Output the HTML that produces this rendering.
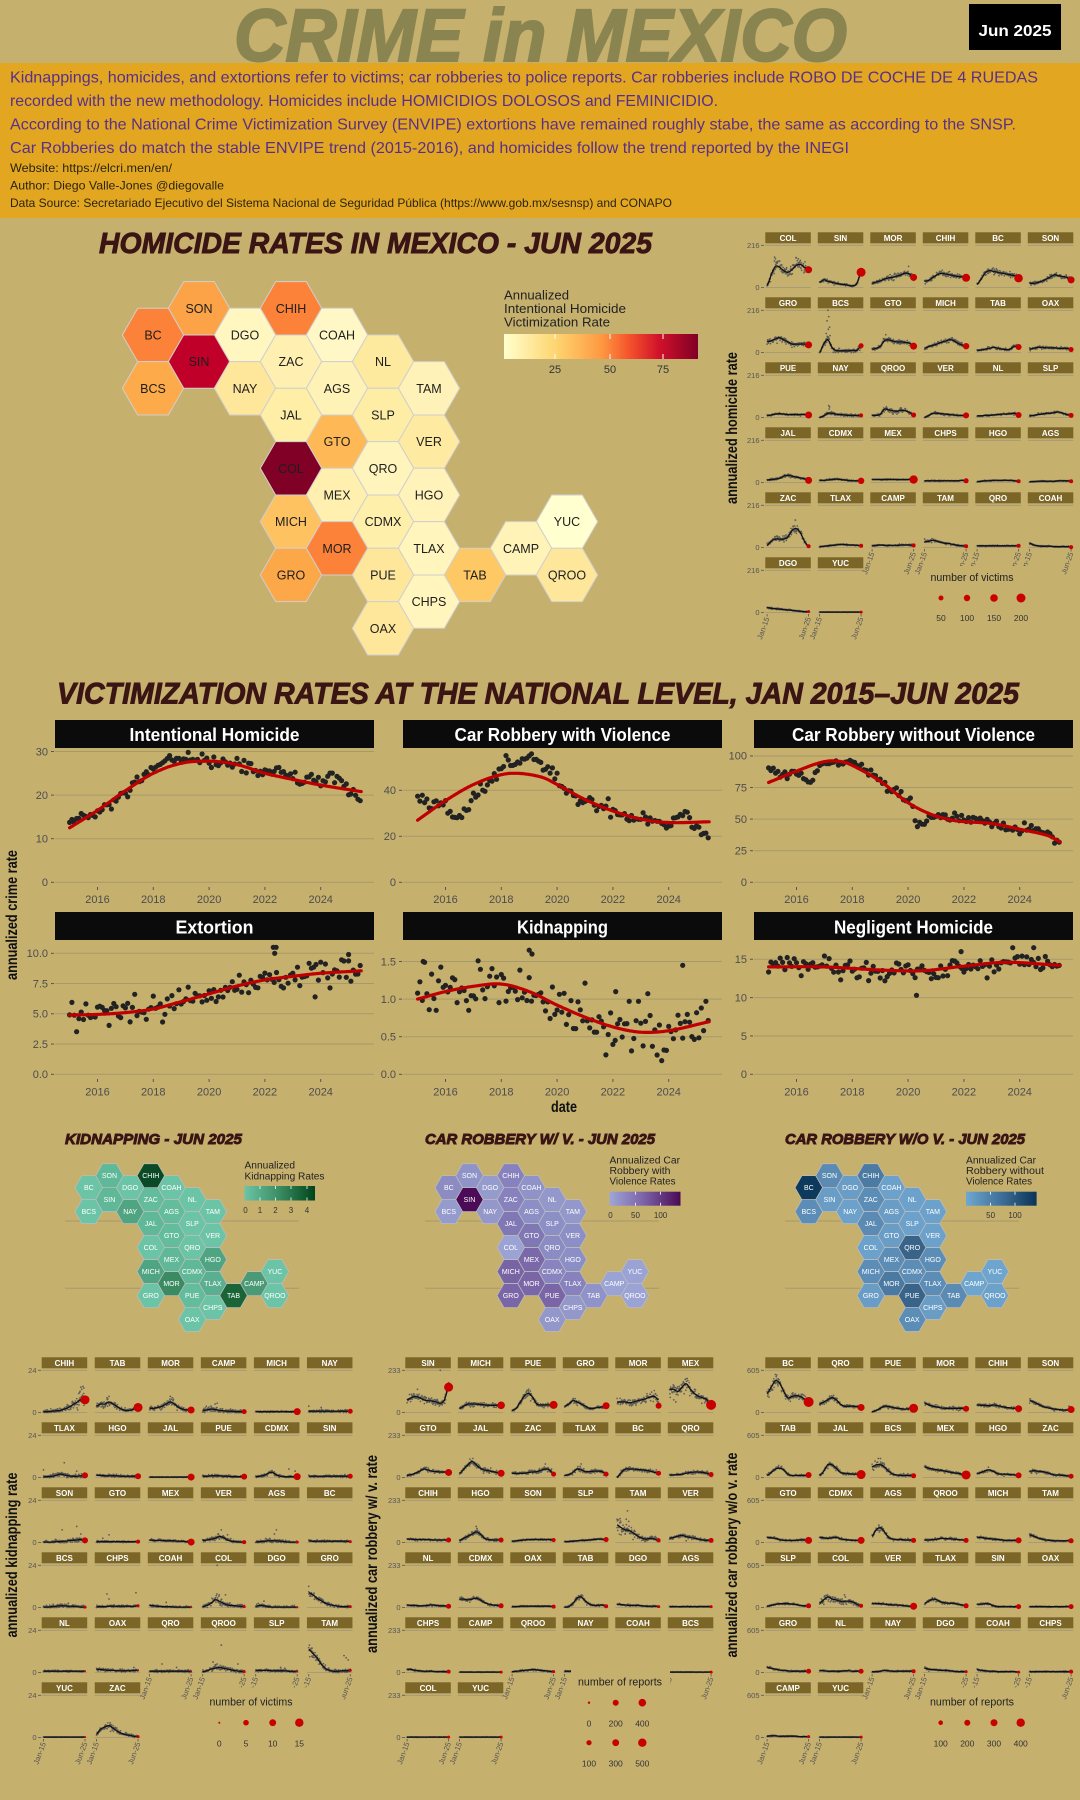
<!DOCTYPE html>
<html><head><meta charset="utf-8"><title>Crime in Mexico</title>
<style>
html,body{margin:0;padding:0;background:#c5b06e;width:1080px;height:1800px;overflow:hidden}
svg{display:block}
text{font-family:"Liberation Sans",sans-serif}
.ob{fill:#58308a;font-size:16px}
.sm{fill:#2a2412;font-size:12px}
.sec{fill:#3b1414;font-weight:bold;font-style:italic;stroke:#3b1414;stroke-width:0.9px}
.hl{font-size:12.5px;fill:#1e1e1e;text-anchor:middle}
.hs{font-size:15.6px;fill:#fff;text-anchor:middle}
.lg{fill:#222;font-size:13px}
.lgs{fill:#222;font-size:10px}
.ll{fill:#333;font-size:11px;text-anchor:middle}
.lls{fill:#333;font-size:8px;text-anchor:middle}
.nt{fill:#fff;font-size:18px;font-weight:bold;text-anchor:middle}
.ny{fill:#4d4d4d;font-size:11px;text-anchor:end}
.nx{fill:#4d4d4d;font-size:11px;text-anchor:middle}
.ax{fill:#111;font-weight:bold;text-anchor:middle;font-size:16px}
.sl{fill:#fff;font-size:8px;font-weight:bold;text-anchor:middle}
.yt{fill:#555;font-size:7.5px;text-anchor:end}
.xt{fill:#555;font-size:7.5px;text-anchor:end}
.lgn{fill:#222;font-size:11px;text-anchor:middle}
.vl{fill:#333;font-size:8.5px;text-anchor:middle}
</style></head><body>
<svg id="S" width="1080" height="1800" viewBox="0 0 1080 1800" xmlns="http://www.w3.org/2000/svg">
<defs>
<linearGradient id="gH" x1="0" x2="1" y1="0" y2="0"><stop offset="0" stop-color="#ffffcc"/><stop offset="0.27" stop-color="#fed470"/><stop offset="0.5" stop-color="#fd9a42"/><stop offset="0.65" stop-color="#f4512b"/><stop offset="0.8" stop-color="#d0112b"/><stop offset="1" stop-color="#800026"/></linearGradient>
<linearGradient id="gK" x1="0" x2="1" y1="0" y2="0"><stop offset="0" stop-color="#6cc4a6"/><stop offset="0.5" stop-color="#3a8c62"/><stop offset="1" stop-color="#00441b"/></linearGradient>
<linearGradient id="gP" x1="0" x2="1" y1="0" y2="0"><stop offset="0" stop-color="#9ea6d6"/><stop offset="0.5" stop-color="#7a60a6"/><stop offset="1" stop-color="#4a0a55"/></linearGradient>
<linearGradient id="gB" x1="0" x2="1" y1="0" y2="0"><stop offset="0" stop-color="#6ea8d0"/><stop offset="0.5" stop-color="#3f6f98"/><stop offset="1" stop-color="#0a3356"/></linearGradient>
</defs>
<rect width="1080" height="1800" fill="#c5b06e"/>

<!-- HEADER -->
<rect x="0" y="63" width="1080" height="155" fill="#e3a621"/>
<text x="540.5" y="61" font-size="74" font-weight="bold" font-style="italic" fill="#8a8550" stroke="#8a8550" stroke-width="2" text-anchor="middle" textLength="613" lengthAdjust="spacingAndGlyphs">CRIME in MEXICO</text>
<rect x="969" y="4" width="92" height="46" fill="#000"/>
<text x="1015" y="36" font-size="15.5" font-weight="bold" fill="#fff" text-anchor="middle" textLength="73" lengthAdjust="spacingAndGlyphs">Jun 2025</text>
<text class="ob" x="10" y="82.5" textLength="1028" lengthAdjust="spacingAndGlyphs">Kidnappings, homicides, and extortions refer to victims; car robberies to police reports. Car robberies include ROBO DE COCHE DE 4 RUEDAS</text>
<text class="ob" x="10" y="106" textLength="708" lengthAdjust="spacingAndGlyphs">recorded with the new methodology. Homicides include HOMICIDIOS DOLOSOS and FEMINICIDIO.</text>
<text class="ob" x="10" y="129.5" textLength="1006" lengthAdjust="spacingAndGlyphs">According to the National Crime Victimization Survey (ENVIPE) extortions have remained roughly stabe, the same as according to the SNSP.</text>
<text class="ob" x="10" y="153" textLength="839" lengthAdjust="spacingAndGlyphs">Car Robberies do match the stable ENVIPE trend (2015-2016), and homicides follow the trend reported by the INEGI</text>
<text class="sm" x="10" y="172" textLength="162" lengthAdjust="spacingAndGlyphs">Website: https://elcri.men/en/</text>
<text class="sm" x="10" y="189.5" textLength="214" lengthAdjust="spacingAndGlyphs">Author: Diego Valle-Jones @diegovalle</text>
<text class="sm" x="10" y="207" textLength="662" lengthAdjust="spacingAndGlyphs">Data Source: Secretariado Ejecutivo del Sistema Nacional de Seguridad Pública (https://www.gob.mx/sesnsp) and CONAPO</text>

<!-- HOMICIDE MAP -->
<text class="sec" x="99" y="253" font-size="29" textLength="553" lengthAdjust="spacingAndGlyphs">HOMICIDE RATES IN MEXICO - JUN 2025</text>
<g id="hexM" transform="translate(153,308.3)"></g>
<g transform="translate(153,312.8)">
<text class="hl" x="46" y="0">SON</text><text class="hl" x="138" y="0">CHIH</text>
<text class="hl" x="0" y="26.67">BC</text><text class="hl" x="92" y="26.67">DGO</text><text class="hl" x="184" y="26.67">COAH</text>
<text class="hl" x="46" y="53.33">SIN</text><text class="hl" x="138" y="53.33">ZAC</text><text class="hl" x="230" y="53.33">NL</text>
<text class="hl" x="0" y="80">BCS</text><text class="hl" x="92" y="80">NAY</text><text class="hl" x="184" y="80">AGS</text><text class="hl" x="276" y="80">TAM</text>
<text class="hl" x="138" y="106.67">JAL</text><text class="hl" x="230" y="106.67">SLP</text>
<text class="hl" x="184" y="133.33">GTO</text><text class="hl" x="276" y="133.33">VER</text>
<text class="hl" x="138" y="160">COL</text><text class="hl" x="230" y="160">QRO</text>
<text class="hl" x="184" y="186.67">MEX</text><text class="hl" x="276" y="186.67">HGO</text>
<text class="hl" x="138" y="213.33">MICH</text><text class="hl" x="230" y="213.33">CDMX</text><text class="hl" x="414" y="213.33">YUC</text>
<text class="hl" x="184" y="240">MOR</text><text class="hl" x="276" y="240">TLAX</text><text class="hl" x="368" y="240">CAMP</text>
<text class="hl" x="138" y="266.67">GRO</text><text class="hl" x="230" y="266.67">PUE</text><text class="hl" x="322" y="266.67">TAB</text><text class="hl" x="414" y="266.67">QROO</text>
<text class="hl" x="276" y="293.33">CHPS</text>
<text class="hl" x="230" y="320">OAX</text>
</g>
<text class="lg" x="504" y="299.5" textLength="65" lengthAdjust="spacingAndGlyphs">Annualized</text>
<text class="lg" x="504" y="313" textLength="122" lengthAdjust="spacingAndGlyphs">Intentional Homicide</text>
<text class="lg" x="504" y="326.5" textLength="106" lengthAdjust="spacingAndGlyphs">Victimization Rate</text>
<rect x="504" y="334" width="194" height="25" fill="url(#gH)"/>
<g stroke="#fff" stroke-width="1"><line x1="555" y1="334" x2="555" y2="339"/><line x1="555" y1="354" x2="555" y2="359"/><line x1="610" y1="334" x2="610" y2="339"/><line x1="610" y1="354" x2="610" y2="359"/><line x1="663" y1="334" x2="663" y2="339"/><line x1="663" y1="354" x2="663" y2="359"/></g>
<text class="ll" x="555" y="373">25</text><text class="ll" x="610" y="373">50</text><text class="ll" x="663" y="373">75</text>

<!-- NATIONAL -->
<text class="sec" x="57" y="703.5" font-size="30" textLength="962" lengthAdjust="spacingAndGlyphs">VICTIMIZATION RATES AT THE NATIONAL LEVEL, JAN 2015–JUN 2025</text>
<g id="natg"></g>
<rect x="55" y="720" width="319" height="28" fill="#0b0b0b"/>
<rect x="403" y="720" width="319" height="28" fill="#0b0b0b"/>
<rect x="754" y="720" width="319" height="28" fill="#0b0b0b"/>
<rect x="55" y="912" width="319" height="28" fill="#0b0b0b"/>
<rect x="403" y="912" width="319" height="28" fill="#0b0b0b"/>
<rect x="754" y="912" width="319" height="28" fill="#0b0b0b"/>
<text class="nt" x="214.5" y="741" textLength="170" lengthAdjust="spacingAndGlyphs">Intentional Homicide</text>
<text class="nt" x="562.5" y="741" textLength="216" lengthAdjust="spacingAndGlyphs">Car Robbery with Violence</text>
<text class="nt" x="913.5" y="741" textLength="243" lengthAdjust="spacingAndGlyphs">Car Robbery without Violence</text>
<text class="nt" x="214.5" y="933.5" textLength="78" lengthAdjust="spacingAndGlyphs">Extortion</text>
<text class="nt" x="562.5" y="933.5" textLength="91" lengthAdjust="spacingAndGlyphs">Kidnapping</text>
<text class="nt" x="913.5" y="933.5" textLength="159" lengthAdjust="spacingAndGlyphs">Negligent Homicide</text>
<g id="natd"></g>
<text class="ny" x="48" y="886.1">0</text><text class="ny" x="48" y="842.5">10</text><text class="ny" x="48" y="798.9">20</text><text class="ny" x="48" y="755.3">30</text>
<text class="ny" x="396" y="886.1">0</text><text class="ny" x="396" y="840.1">20</text><text class="ny" x="396" y="794.1">40</text>
<text class="ny" x="747" y="886.1">0</text><text class="ny" x="747" y="854.5">25</text><text class="ny" x="747" y="822.9">50</text><text class="ny" x="747" y="791.3">75</text><text class="ny" x="747" y="759.7">100</text>
<text class="ny" x="48" y="1078.1">0.0</text><text class="ny" x="48" y="1047.85">2.5</text><text class="ny" x="48" y="1017.6">5.0</text><text class="ny" x="48" y="987.35">7.5</text><text class="ny" x="48" y="957.1">10.0</text>
<text class="ny" x="396" y="1078.1">0.0</text><text class="ny" x="396" y="1040.5">0.5</text><text class="ny" x="396" y="1002.9">1.0</text><text class="ny" x="396" y="965.3">1.5</text>
<text class="ny" x="747" y="1078.1">0</text><text class="ny" x="747" y="1039.8">5</text><text class="ny" x="747" y="1001.4">10</text><text class="ny" x="747" y="963.1">15</text>
<g>
<text class="nx" x="97.5" y="903">2016</text><text class="nx" x="153.3" y="903">2018</text><text class="nx" x="209.1" y="903">2020</text><text class="nx" x="264.9" y="903">2022</text><text class="nx" x="320.7" y="903">2024</text>
<text class="nx" x="445.5" y="903">2016</text><text class="nx" x="501.3" y="903">2018</text><text class="nx" x="557.1" y="903">2020</text><text class="nx" x="612.9" y="903">2022</text><text class="nx" x="668.7" y="903">2024</text>
<text class="nx" x="796.5" y="903">2016</text><text class="nx" x="852.3" y="903">2018</text><text class="nx" x="908.1" y="903">2020</text><text class="nx" x="963.9" y="903">2022</text><text class="nx" x="1019.7" y="903">2024</text>
<text class="nx" x="97.5" y="1095.5">2016</text><text class="nx" x="153.3" y="1095.5">2018</text><text class="nx" x="209.1" y="1095.5">2020</text><text class="nx" x="264.9" y="1095.5">2022</text><text class="nx" x="320.7" y="1095.5">2024</text>
<text class="nx" x="445.5" y="1095.5">2016</text><text class="nx" x="501.3" y="1095.5">2018</text><text class="nx" x="557.1" y="1095.5">2020</text><text class="nx" x="612.9" y="1095.5">2022</text><text class="nx" x="668.7" y="1095.5">2024</text>
<text class="nx" x="796.5" y="1095.5">2016</text><text class="nx" x="852.3" y="1095.5">2018</text><text class="nx" x="908.1" y="1095.5">2020</text><text class="nx" x="963.9" y="1095.5">2022</text><text class="nx" x="1019.7" y="1095.5">2024</text>
</g>
<text class="ax" transform="translate(17,915) rotate(-90)" textLength="130" lengthAdjust="spacingAndGlyphs">annualized crime rate</text>
<text class="ax" x="564" y="1112" textLength="26" lengthAdjust="spacingAndGlyphs">date</text>

<!-- SMALL HEX MAPS -->
<text class="sec" x="65" y="1144" font-size="15" textLength="177" lengthAdjust="spacingAndGlyphs">KIDNAPPING - JUN 2025</text>
<text class="sec" x="425" y="1144" font-size="15" textLength="230" lengthAdjust="spacingAndGlyphs">CAR ROBBERY W/ V. - JUN 2025</text>
<text class="sec" x="785" y="1144" font-size="15" textLength="240" lengthAdjust="spacingAndGlyphs">CAR ROBBERY W/O V. - JUN 2025</text>
<g stroke="#a8996a" stroke-width="1">
<line x1="65" y1="1221" x2="299" y2="1221"/><line x1="65" y1="1288.3" x2="299" y2="1288.3"/>
<line x1="425" y1="1221" x2="659" y2="1221"/><line x1="425" y1="1288.3" x2="659" y2="1288.3"/>
<line x1="785" y1="1221" x2="1019" y2="1221"/><line x1="785" y1="1288.3" x2="1019" y2="1288.3"/>
</g>
<g id="hexK" transform="translate(88.8,1175.7) scale(0.4495)"></g>
<g id="hexP" transform="translate(448.8,1175.7) scale(0.4495)"></g>
<g id="hexB" transform="translate(808.8,1175.7) scale(0.4495)"></g>
<g transform="translate(88.8,1175.7) scale(0.4495) translate(0,5.6)">
<text class="hs" x="46" y="0">SON</text><text class="hs" x="138" y="0">CHIH</text>
<text class="hs" x="0" y="26.67">BC</text><text class="hs" x="92" y="26.67">DGO</text><text class="hs" x="184" y="26.67">COAH</text>
<text class="hs" x="46" y="53.33">SIN</text><text class="hs" x="138" y="53.33">ZAC</text><text class="hs" x="230" y="53.33">NL</text>
<text class="hs" x="0" y="80">BCS</text><text class="hs" x="92" y="80">NAY</text><text class="hs" x="184" y="80">AGS</text><text class="hs" x="276" y="80">TAM</text>
<text class="hs" x="138" y="106.67">JAL</text><text class="hs" x="230" y="106.67">SLP</text>
<text class="hs" x="184" y="133.33">GTO</text><text class="hs" x="276" y="133.33">VER</text>
<text class="hs" x="138" y="160">COL</text><text class="hs" x="230" y="160">QRO</text>
<text class="hs" x="184" y="186.67">MEX</text><text class="hs" x="276" y="186.67">HGO</text>
<text class="hs" x="138" y="213.33">MICH</text><text class="hs" x="230" y="213.33">CDMX</text><text class="hs" x="414" y="213.33">YUC</text>
<text class="hs" x="184" y="240">MOR</text><text class="hs" x="276" y="240">TLAX</text><text class="hs" x="368" y="240">CAMP</text>
<text class="hs" x="138" y="266.67">GRO</text><text class="hs" x="230" y="266.67">PUE</text><text class="hs" x="322" y="266.67">TAB</text><text class="hs" x="414" y="266.67">QROO</text>
<text class="hs" x="276" y="293.33">CHPS</text>
<text class="hs" x="230" y="320">OAX</text>
</g>
<g transform="translate(448.8,1175.7) scale(0.4495) translate(0,5.6)">
<text class="hs" x="46" y="0">SON</text><text class="hs" x="138" y="0">CHIH</text>
<text class="hs" x="0" y="26.67">BC</text><text class="hs" x="92" y="26.67">DGO</text><text class="hs" x="184" y="26.67">COAH</text>
<text class="hs" x="46" y="53.33">SIN</text><text class="hs" x="138" y="53.33">ZAC</text><text class="hs" x="230" y="53.33">NL</text>
<text class="hs" x="0" y="80">BCS</text><text class="hs" x="92" y="80">NAY</text><text class="hs" x="184" y="80">AGS</text><text class="hs" x="276" y="80">TAM</text>
<text class="hs" x="138" y="106.67">JAL</text><text class="hs" x="230" y="106.67">SLP</text>
<text class="hs" x="184" y="133.33">GTO</text><text class="hs" x="276" y="133.33">VER</text>
<text class="hs" x="138" y="160">COL</text><text class="hs" x="230" y="160">QRO</text>
<text class="hs" x="184" y="186.67">MEX</text><text class="hs" x="276" y="186.67">HGO</text>
<text class="hs" x="138" y="213.33">MICH</text><text class="hs" x="230" y="213.33">CDMX</text><text class="hs" x="414" y="213.33">YUC</text>
<text class="hs" x="184" y="240">MOR</text><text class="hs" x="276" y="240">TLAX</text><text class="hs" x="368" y="240">CAMP</text>
<text class="hs" x="138" y="266.67">GRO</text><text class="hs" x="230" y="266.67">PUE</text><text class="hs" x="322" y="266.67">TAB</text><text class="hs" x="414" y="266.67">QROO</text>
<text class="hs" x="276" y="293.33">CHPS</text>
<text class="hs" x="230" y="320">OAX</text>
</g>
<g transform="translate(808.8,1175.7) scale(0.4495) translate(0,5.6)">
<text class="hs" x="46" y="0">SON</text><text class="hs" x="138" y="0">CHIH</text>
<text class="hs" x="0" y="26.67">BC</text><text class="hs" x="92" y="26.67">DGO</text><text class="hs" x="184" y="26.67">COAH</text>
<text class="hs" x="46" y="53.33">SIN</text><text class="hs" x="138" y="53.33">ZAC</text><text class="hs" x="230" y="53.33">NL</text>
<text class="hs" x="0" y="80">BCS</text><text class="hs" x="92" y="80">NAY</text><text class="hs" x="184" y="80">AGS</text><text class="hs" x="276" y="80">TAM</text>
<text class="hs" x="138" y="106.67">JAL</text><text class="hs" x="230" y="106.67">SLP</text>
<text class="hs" x="184" y="133.33">GTO</text><text class="hs" x="276" y="133.33">VER</text>
<text class="hs" x="138" y="160">COL</text><text class="hs" x="230" y="160">QRO</text>
<text class="hs" x="184" y="186.67">MEX</text><text class="hs" x="276" y="186.67">HGO</text>
<text class="hs" x="138" y="213.33">MICH</text><text class="hs" x="230" y="213.33">CDMX</text><text class="hs" x="414" y="213.33">YUC</text>
<text class="hs" x="184" y="240">MOR</text><text class="hs" x="276" y="240">TLAX</text><text class="hs" x="368" y="240">CAMP</text>
<text class="hs" x="138" y="266.67">GRO</text><text class="hs" x="230" y="266.67">PUE</text><text class="hs" x="322" y="266.67">TAB</text><text class="hs" x="414" y="266.67">QROO</text>
<text class="hs" x="276" y="293.33">CHPS</text>
<text class="hs" x="230" y="320">OAX</text>
</g>
<!-- small map legends -->
<text class="lgs" x="244.5" y="1168.5" textLength="50.5" lengthAdjust="spacingAndGlyphs">Annualized</text>
<text class="lgs" x="244.5" y="1179.5" textLength="80" lengthAdjust="spacingAndGlyphs">Kidnapping Rates</text>
<rect x="244.5" y="1186" width="70.5" height="14.5" fill="url(#gK)"/>
<g stroke="#fff" stroke-width="0.8"><line x1="260" y1="1186" x2="260" y2="1189"/><line x1="260" y1="1197.5" x2="260" y2="1200.5"/><line x1="275.5" y1="1186" x2="275.5" y2="1189"/><line x1="275.5" y1="1197.5" x2="275.5" y2="1200.5"/><line x1="291" y1="1186" x2="291" y2="1189"/><line x1="291" y1="1197.5" x2="291" y2="1200.5"/><line x1="307" y1="1186" x2="307" y2="1189"/><line x1="307" y1="1197.5" x2="307" y2="1200.5"/></g>
<text class="lls" x="245.5" y="1213">0</text><text class="lls" x="260" y="1213">1</text><text class="lls" x="275.5" y="1213">2</text><text class="lls" x="291" y="1213">3</text><text class="lls" x="307" y="1213">4</text>

<text class="lgs" x="609.5" y="1163.5" textLength="70.5" lengthAdjust="spacingAndGlyphs">Annualized Car</text>
<text class="lgs" x="609.5" y="1174" textLength="61" lengthAdjust="spacingAndGlyphs">Robbery with</text>
<text class="lgs" x="609.5" y="1184.5" textLength="66" lengthAdjust="spacingAndGlyphs">Violence Rates</text>
<rect x="609.5" y="1191.7" width="71" height="14" fill="url(#gP)"/>
<g stroke="#fff" stroke-width="0.8"><line x1="635.5" y1="1191.7" x2="635.5" y2="1194.7"/><line x1="635.5" y1="1202.7" x2="635.5" y2="1205.7"/><line x1="660.6" y1="1191.7" x2="660.6" y2="1194.7"/><line x1="660.6" y1="1202.7" x2="660.6" y2="1205.7"/></g>
<text class="lls" x="610.5" y="1218">0</text><text class="lls" x="635.5" y="1218">50</text><text class="lls" x="660.6" y="1218">100</text>

<text class="lgs" x="966" y="1163.5" textLength="70" lengthAdjust="spacingAndGlyphs">Annualized Car</text>
<text class="lgs" x="966" y="1174" textLength="78" lengthAdjust="spacingAndGlyphs">Robbery without</text>
<text class="lgs" x="966" y="1184.5" textLength="66" lengthAdjust="spacingAndGlyphs">Violence Rates</text>
<rect x="966" y="1191.7" width="70.6" height="14" fill="url(#gB)"/>
<g stroke="#fff" stroke-width="0.8"><line x1="990.6" y1="1191.7" x2="990.6" y2="1194.7"/><line x1="990.6" y1="1202.7" x2="990.6" y2="1205.7"/><line x1="1015" y1="1191.7" x2="1015" y2="1194.7"/><line x1="1015" y1="1202.7" x2="1015" y2="1205.7"/></g>
<text class="lls" x="990.6" y="1218">50</text><text class="lls" x="1015" y="1218">100</text>

<!-- SMALL MULTIPLES -->
<g id="smb"></g>
<g id="smd"></g>

<!-- homicide grid text -->
<g transform="translate(0,232.3)"><text class="sl" x="788.05" y="8.5">COL</text><text class="sl" x="840.55" y="8.5">SIN</text><text class="sl" x="893.05" y="8.5">MOR</text><text class="sl" x="945.55" y="8.5">CHIH</text><text class="sl" x="998.05" y="8.5">BC</text><text class="sl" x="1050.55" y="8.5">SON</text><text class="yt" x="759.5" y="15.7">216</text><text class="yt" x="759.5" y="57.9">0</text></g>
<g transform="translate(0,297.3)"><text class="sl" x="788.05" y="8.5">GRO</text><text class="sl" x="840.55" y="8.5">BCS</text><text class="sl" x="893.05" y="8.5">GTO</text><text class="sl" x="945.55" y="8.5">MICH</text><text class="sl" x="998.05" y="8.5">TAB</text><text class="sl" x="1050.55" y="8.5">OAX</text><text class="yt" x="759.5" y="15.7">216</text><text class="yt" x="759.5" y="57.9">0</text></g>
<g transform="translate(0,362.3)"><text class="sl" x="788.05" y="8.5">PUE</text><text class="sl" x="840.55" y="8.5">NAY</text><text class="sl" x="893.05" y="8.5">QROO</text><text class="sl" x="945.55" y="8.5">VER</text><text class="sl" x="998.05" y="8.5">NL</text><text class="sl" x="1050.55" y="8.5">SLP</text><text class="yt" x="759.5" y="15.7">216</text><text class="yt" x="759.5" y="57.9">0</text></g>
<g transform="translate(0,427.3)"><text class="sl" x="788.05" y="8.5">JAL</text><text class="sl" x="840.55" y="8.5">CDMX</text><text class="sl" x="893.05" y="8.5">MEX</text><text class="sl" x="945.55" y="8.5">CHPS</text><text class="sl" x="998.05" y="8.5">HGO</text><text class="sl" x="1050.55" y="8.5">AGS</text><text class="yt" x="759.5" y="15.7">216</text><text class="yt" x="759.5" y="57.9">0</text></g>
<g transform="translate(0,492.3)"><text class="sl" x="788.05" y="8.5">ZAC</text><text class="sl" x="840.55" y="8.5">TLAX</text><text class="sl" x="893.05" y="8.5">CAMP</text><text class="sl" x="945.55" y="8.5">TAM</text><text class="sl" x="998.05" y="8.5">QRO</text><text class="sl" x="1050.55" y="8.5">COAH</text><text class="yt" x="759.5" y="15.7">216</text><text class="yt" x="759.5" y="57.9">0</text>
<text class="xt" transform="translate(874.6,61) rotate(-70)">Jan-15</text><text class="xt" transform="translate(916.1,61) rotate(-70)">Jun-25</text>
<text class="xt" transform="translate(927.1,61) rotate(-70)">Jan-15</text><text class="xt" transform="translate(968.6,61) rotate(-70)">Jun-25</text>
<text class="xt" transform="translate(979.6,61) rotate(-70)">Jan-15</text><text class="xt" transform="translate(1021.1,61) rotate(-70)">Jun-25</text>
<text class="xt" transform="translate(1032.1,61) rotate(-70)">Jan-15</text><text class="xt" transform="translate(1073.6,61) rotate(-70)">Jun-25</text></g>
<g transform="translate(0,557.3)"><text class="sl" x="788.05" y="8.5">DGO</text><text class="sl" x="840.55" y="8.5">YUC</text><text class="yt" x="759.5" y="15.7">216</text><text class="yt" x="759.5" y="57.9">0</text>
<text class="xt" transform="translate(769.6,61) rotate(-70)">Jan-15</text><text class="xt" transform="translate(811.1,61) rotate(-70)">Jun-25</text>
<text class="xt" transform="translate(822.1,61) rotate(-70)">Jan-15</text><text class="xt" transform="translate(863.6,61) rotate(-70)">Jun-25</text></g>
<text class="ax" transform="translate(737,428) rotate(-90)" textLength="152" lengthAdjust="spacingAndGlyphs">annualized homicide rate</text>
<rect x="923" y="566" width="139" height="62" fill="#c5b06e"/>
<text class="lgn" x="972" y="581" textLength="83" lengthAdjust="spacingAndGlyphs">number of victims</text>
<g fill="#c80000"><circle cx="941" cy="598" r="2.5"/><circle cx="967" cy="598" r="3.2"/><circle cx="994" cy="598" r="3.8"/><circle cx="1021" cy="598" r="4.5"/></g>
<text class="vl" x="941" y="621">50</text><text class="vl" x="967" y="621">100</text><text class="vl" x="994" y="621">150</text><text class="vl" x="1021" y="621">200</text>

<!-- kidnapping grid text -->
<g transform="translate(0,1357.3)"><text class="sl" x="64.45" y="8.5">CHIH</text><text class="sl" x="117.5" y="8.5">TAB</text><text class="sl" x="170.55" y="8.5">MOR</text><text class="sl" x="223.6" y="8.5">CAMP</text><text class="sl" x="276.65" y="8.5">MICH</text><text class="sl" x="329.7" y="8.5">NAY</text><text class="yt" x="36.5" y="15.7">24</text><text class="yt" x="36.5" y="57.9">0</text></g>
<g transform="translate(0,1422.3)"><text class="sl" x="64.45" y="8.5">TLAX</text><text class="sl" x="117.5" y="8.5">HGO</text><text class="sl" x="170.55" y="8.5">JAL</text><text class="sl" x="223.6" y="8.5">PUE</text><text class="sl" x="276.65" y="8.5">CDMX</text><text class="sl" x="329.7" y="8.5">SIN</text><text class="yt" x="36.5" y="15.7">24</text><text class="yt" x="36.5" y="57.9">0</text></g>
<g transform="translate(0,1487.3)"><text class="sl" x="64.45" y="8.5">SON</text><text class="sl" x="117.5" y="8.5">GTO</text><text class="sl" x="170.55" y="8.5">MEX</text><text class="sl" x="223.6" y="8.5">VER</text><text class="sl" x="276.65" y="8.5">AGS</text><text class="sl" x="329.7" y="8.5">BC</text><text class="yt" x="36.5" y="15.7">24</text><text class="yt" x="36.5" y="57.9">0</text></g>
<g transform="translate(0,1552.3)"><text class="sl" x="64.45" y="8.5">BCS</text><text class="sl" x="117.5" y="8.5">CHPS</text><text class="sl" x="170.55" y="8.5">COAH</text><text class="sl" x="223.6" y="8.5">COL</text><text class="sl" x="276.65" y="8.5">DGO</text><text class="sl" x="329.7" y="8.5">GRO</text><text class="yt" x="36.5" y="15.7">24</text><text class="yt" x="36.5" y="57.9">0</text></g>
<g transform="translate(0,1617.3)"><text class="sl" x="64.45" y="8.5">NL</text><text class="sl" x="117.5" y="8.5">OAX</text><text class="sl" x="170.55" y="8.5">QRO</text><text class="sl" x="223.6" y="8.5">QROO</text><text class="sl" x="276.65" y="8.5">SLP</text><text class="sl" x="329.7" y="8.5">TAM</text><text class="yt" x="36.5" y="15.7">24</text><text class="yt" x="36.5" y="57.9">0</text>
<text class="xt" transform="translate(152.1,61) rotate(-70)">Jan-15</text><text class="xt" transform="translate(193.6,61) rotate(-70)">Jun-25</text>
<text class="xt" transform="translate(205.15,61) rotate(-70)">Jan-15</text><text class="xt" transform="translate(246.65,61) rotate(-70)">Jun-25</text>
<text class="xt" transform="translate(258.2,61) rotate(-70)">Jan-15</text><text class="xt" transform="translate(299.7,61) rotate(-70)">Jun-25</text>
<text class="xt" transform="translate(311.25,61) rotate(-70)">Jan-15</text><text class="xt" transform="translate(352.75,61) rotate(-70)">Jun-25</text></g>
<g transform="translate(0,1682.3)"><text class="sl" x="64.45" y="8.5">YUC</text><text class="sl" x="117.5" y="8.5">ZAC</text><text class="yt" x="36.5" y="15.7">24</text><text class="yt" x="36.5" y="57.9">0</text>
<text class="xt" transform="translate(46,61) rotate(-70)">Jan-15</text><text class="xt" transform="translate(87.5,61) rotate(-70)">Jun-25</text>
<text class="xt" transform="translate(99.05,61) rotate(-70)">Jan-15</text><text class="xt" transform="translate(140.55,61) rotate(-70)">Jun-25</text></g>
<text class="ax" transform="translate(17,1555) rotate(-90)" textLength="165" lengthAdjust="spacingAndGlyphs">annualized kidnapping rate</text>
<rect x="202" y="1688" width="140" height="64" fill="#c5b06e"/>
<text class="lgn" x="251" y="1705.5" textLength="83" lengthAdjust="spacingAndGlyphs">number of victims</text>
<g fill="#c80000"><circle cx="219.3" cy="1722.7" r="1"/><circle cx="246" cy="1722.7" r="2.8"/><circle cx="272.7" cy="1722.7" r="3.4"/><circle cx="299.3" cy="1722.7" r="4.2"/></g>
<text class="vl" x="219.3" y="1746.5">0</text><text class="vl" x="246" y="1746.5">5</text><text class="vl" x="272.7" y="1746.5">10</text><text class="vl" x="299.3" y="1746.5">15</text>

<!-- car w/ v grid text -->
<g transform="translate(0,1357.3)"><text class="sl" x="428.05" y="8.5">SIN</text><text class="sl" x="480.55" y="8.5">MICH</text><text class="sl" x="533.05" y="8.5">PUE</text><text class="sl" x="585.55" y="8.5">GRO</text><text class="sl" x="638.05" y="8.5">MOR</text><text class="sl" x="690.55" y="8.5">MEX</text><text class="yt" x="400.5" y="15.7">233</text><text class="yt" x="400.5" y="57.9">0</text></g>
<g transform="translate(0,1422.3)"><text class="sl" x="428.05" y="8.5">GTO</text><text class="sl" x="480.55" y="8.5">JAL</text><text class="sl" x="533.05" y="8.5">ZAC</text><text class="sl" x="585.55" y="8.5">TLAX</text><text class="sl" x="638.05" y="8.5">BC</text><text class="sl" x="690.55" y="8.5">QRO</text><text class="yt" x="400.5" y="15.7">233</text><text class="yt" x="400.5" y="57.9">0</text></g>
<g transform="translate(0,1487.3)"><text class="sl" x="428.05" y="8.5">CHIH</text><text class="sl" x="480.55" y="8.5">HGO</text><text class="sl" x="533.05" y="8.5">SON</text><text class="sl" x="585.55" y="8.5">SLP</text><text class="sl" x="638.05" y="8.5">TAM</text><text class="sl" x="690.55" y="8.5">VER</text><text class="yt" x="400.5" y="15.7">233</text><text class="yt" x="400.5" y="57.9">0</text></g>
<g transform="translate(0,1552.3)"><text class="sl" x="428.05" y="8.5">NL</text><text class="sl" x="480.55" y="8.5">CDMX</text><text class="sl" x="533.05" y="8.5">OAX</text><text class="sl" x="585.55" y="8.5">TAB</text><text class="sl" x="638.05" y="8.5">DGO</text><text class="sl" x="690.55" y="8.5">AGS</text><text class="yt" x="400.5" y="15.7">233</text><text class="yt" x="400.5" y="57.9">0</text></g>
<g transform="translate(0,1617.3)"><text class="sl" x="428.05" y="8.5">CHPS</text><text class="sl" x="480.55" y="8.5">CAMP</text><text class="sl" x="533.05" y="8.5">QROO</text><text class="sl" x="585.55" y="8.5">NAY</text><text class="sl" x="638.05" y="8.5">COAH</text><text class="sl" x="690.55" y="8.5">BCS</text><text class="yt" x="400.5" y="15.7">233</text><text class="yt" x="400.5" y="57.9">0</text>
<text class="xt" transform="translate(514.6,61) rotate(-70)">Jan-15</text><text class="xt" transform="translate(556.1,61) rotate(-70)">Jun-25</text>
<text class="xt" transform="translate(567.1,61) rotate(-70)">Jan-15</text><text class="xt" transform="translate(608.6,61) rotate(-70)">Jun-25</text>
<text class="xt" transform="translate(619.6,61) rotate(-70)">Jan-15</text><text class="xt" transform="translate(661.1,61) rotate(-70)">Jun-25</text>
<text class="xt" transform="translate(672.1,61) rotate(-70)">Jan-15</text><text class="xt" transform="translate(713.6,61) rotate(-70)">Jun-25</text></g>
<g transform="translate(0,1682.3)"><text class="sl" x="428.05" y="8.5">COL</text><text class="sl" x="480.55" y="8.5">YUC</text><text class="yt" x="400.5" y="15.7">233</text><text class="yt" x="400.5" y="57.9">0</text>
<text class="xt" transform="translate(409.6,61) rotate(-70)">Jan-15</text><text class="xt" transform="translate(451.1,61) rotate(-70)">Jun-25</text>
<text class="xt" transform="translate(462.1,61) rotate(-70)">Jan-15</text><text class="xt" transform="translate(503.6,61) rotate(-70)">Jun-25</text></g>
<text class="ax" transform="translate(377,1554) rotate(-90)" textLength="198" lengthAdjust="spacingAndGlyphs">annualized car robbery w/ v. rate</text>
<rect x="571" y="1669" width="99" height="104" fill="#c5b06e"/>
<text class="lgn" x="620" y="1685.5" textLength="84" lengthAdjust="spacingAndGlyphs">number of reports</text>
<g fill="#c80000"><circle cx="589" cy="1702.7" r="1.2"/><circle cx="615.7" cy="1702.7" r="3"/><circle cx="642.3" cy="1702.7" r="3.8"/><circle cx="589" cy="1742.7" r="2.6"/><circle cx="615.7" cy="1742.7" r="3.4"/><circle cx="642.3" cy="1742.7" r="4.2"/></g>
<text class="vl" x="589" y="1726.5">0</text><text class="vl" x="615.7" y="1726.5">200</text><text class="vl" x="642.3" y="1726.5">400</text>
<text class="vl" x="589" y="1766.5">100</text><text class="vl" x="615.7" y="1766.5">300</text><text class="vl" x="642.3" y="1766.5">500</text>

<!-- car w/o v grid text -->
<g transform="translate(0,1357.3)"><text class="sl" x="788.05" y="8.5">BC</text><text class="sl" x="840.55" y="8.5">QRO</text><text class="sl" x="893.05" y="8.5">PUE</text><text class="sl" x="945.55" y="8.5">MOR</text><text class="sl" x="998.05" y="8.5">CHIH</text><text class="sl" x="1050.55" y="8.5">SON</text><text class="yt" x="759.5" y="15.7">605</text><text class="yt" x="759.5" y="57.9">0</text></g>
<g transform="translate(0,1422.3)"><text class="sl" x="788.05" y="8.5">TAB</text><text class="sl" x="840.55" y="8.5">JAL</text><text class="sl" x="893.05" y="8.5">BCS</text><text class="sl" x="945.55" y="8.5">MEX</text><text class="sl" x="998.05" y="8.5">HGO</text><text class="sl" x="1050.55" y="8.5">ZAC</text><text class="yt" x="759.5" y="15.7">605</text><text class="yt" x="759.5" y="57.9">0</text></g>
<g transform="translate(0,1487.3)"><text class="sl" x="788.05" y="8.5">GTO</text><text class="sl" x="840.55" y="8.5">CDMX</text><text class="sl" x="893.05" y="8.5">AGS</text><text class="sl" x="945.55" y="8.5">QROO</text><text class="sl" x="998.05" y="8.5">MICH</text><text class="sl" x="1050.55" y="8.5">TAM</text><text class="yt" x="759.5" y="15.7">605</text><text class="yt" x="759.5" y="57.9">0</text></g>
<g transform="translate(0,1552.3)"><text class="sl" x="788.05" y="8.5">SLP</text><text class="sl" x="840.55" y="8.5">COL</text><text class="sl" x="893.05" y="8.5">VER</text><text class="sl" x="945.55" y="8.5">TLAX</text><text class="sl" x="998.05" y="8.5">SIN</text><text class="sl" x="1050.55" y="8.5">OAX</text><text class="yt" x="759.5" y="15.7">605</text><text class="yt" x="759.5" y="57.9">0</text></g>
<g transform="translate(0,1617.3)"><text class="sl" x="788.05" y="8.5">GRO</text><text class="sl" x="840.55" y="8.5">NL</text><text class="sl" x="893.05" y="8.5">NAY</text><text class="sl" x="945.55" y="8.5">DGO</text><text class="sl" x="998.05" y="8.5">COAH</text><text class="sl" x="1050.55" y="8.5">CHPS</text><text class="yt" x="759.5" y="15.7">605</text><text class="yt" x="759.5" y="57.9">0</text>
<text class="xt" transform="translate(874.6,61) rotate(-70)">Jan-15</text><text class="xt" transform="translate(916.1,61) rotate(-70)">Jun-25</text>
<text class="xt" transform="translate(927.1,61) rotate(-70)">Jan-15</text><text class="xt" transform="translate(968.6,61) rotate(-70)">Jun-25</text>
<text class="xt" transform="translate(979.6,61) rotate(-70)">Jan-15</text><text class="xt" transform="translate(1021.1,61) rotate(-70)">Jun-25</text>
<text class="xt" transform="translate(1032.1,61) rotate(-70)">Jan-15</text><text class="xt" transform="translate(1073.6,61) rotate(-70)">Jun-25</text></g>
<g transform="translate(0,1682.3)"><text class="sl" x="788.05" y="8.5">CAMP</text><text class="sl" x="840.55" y="8.5">YUC</text><text class="yt" x="759.5" y="15.7">605</text><text class="yt" x="759.5" y="57.9">0</text>
<text class="xt" transform="translate(769.6,61) rotate(-70)">Jan-15</text><text class="xt" transform="translate(811.1,61) rotate(-70)">Jun-25</text>
<text class="xt" transform="translate(822.1,61) rotate(-70)">Jan-15</text><text class="xt" transform="translate(863.6,61) rotate(-70)">Jun-25</text></g>
<text class="ax" transform="translate(737,1555) rotate(-90)" textLength="205" lengthAdjust="spacingAndGlyphs">annualized car robbery w/o v. rate</text>
<rect x="923" y="1688" width="139" height="64" fill="#c5b06e"/>
<text class="lgn" x="972" y="1705.5" textLength="84" lengthAdjust="spacingAndGlyphs">number of reports</text>
<g fill="#c80000"><circle cx="940.7" cy="1722.7" r="2.3"/><circle cx="967.3" cy="1722.7" r="3"/><circle cx="994" cy="1722.7" r="3.5"/><circle cx="1020.7" cy="1722.7" r="4.2"/></g>
<text class="vl" x="940.7" y="1746.5">100</text><text class="vl" x="967.3" y="1746.5">200</text><text class="vl" x="994" y="1746.5">300</text><text class="vl" x="1020.7" y="1746.5">400</text>
</svg>
<script>
(function(){
var NS='http://www.w3.org/2000/svg';
function el(tag,a,p){var e=document.createElementNS(NS,tag);for(var k in a)e.setAttribute(k,a[k]);p.appendChild(e);return e;}
var s=12345;
function rnd(){s|=0;s=s+0x6D2B79F5|0;var t=Math.imul(s^s>>>15,1|s);t=t+Math.imul(t^t>>>7,61|t)^t;return((t^t>>>14)>>>0)/4294967296;}
function gauss(){var u=0;while(u===0)u=rnd();return Math.sqrt(-2*Math.log(u))*Math.cos(2*Math.PI*rnd());}
function interp(k,t){var n=k.length-1,x=t*n,i=Math.floor(x);if(i>=n)i=n-1;if(i<0)i=0;var f=x-i;var p0=k[Math.max(i-1,0)],p1=k[i],p2=k[i+1],p3=k[Math.min(i+2,n)];return 0.5*((2*p1)+(-p0+p2)*f+(2*p0-5*p1+4*p2-p3)*f*f+(-p0+3*p1-3*p2+p3)*f*f*f);}
function ixy(pts,x){var n=pts.length;if(x<=pts[0][0])return pts[0][1];if(x>=pts[n-1][0])return pts[n-1][1];var i=0;while(pts[i+1][0]<x)i++;
 var x0=pts[i][0],y0=pts[i][1],x1=pts[i+1][0],y1=pts[i+1][1],h=x1-x0,t=(x-x0)/h;
 function m(j){if(j<=0)return(pts[1][1]-pts[0][1])/(pts[1][0]-pts[0][0]);if(j>=n-1)return(pts[n-1][1]-pts[n-2][1])/(pts[n-1][0]-pts[n-2][0]);return(pts[j+1][1]-pts[j-1][1])/(pts[j+1][0]-pts[j-1][0]);}
 var m0=m(i)*h,m1=m(i+1)*h,t2=t*t,t3=t2*t;return(2*t3-3*t2+1)*y0+(t3-2*t2+t)*m0+(-2*t3+3*t2)*y1+(t3-t2)*m1;}

var HEX=[['SON',1,0],['CHIH',3,0],['BC',0,1],['DGO',2,1],['COAH',4,1],['SIN',1,2],['ZAC',3,2],['NL',5,2],['BCS',0,3],['NAY',2,3],['AGS',4,3],['TAM',6,3],['JAL',3,4],['SLP',5,4],['GTO',4,5],['VER',6,5],['COL',3,6],['QRO',5,6],['MEX',4,7],['HGO',6,7],['MICH',3,8],['CDMX',5,8],['YUC',9,8],['MOR',4,9],['TLAX',6,9],['CAMP',8,9],['GRO',3,10],['PUE',5,10],['TAB',7,10],['QROO',9,10],['CHPS',6,11],['OAX',5,12]];
function hexes(id,col,sw,st){var g=document.getElementById(id);HEX.forEach(function(h){var cx=h[1]*46,cy=h[2]*26.667;var P=[[30.67,0],[15.33,26.67],[-15.33,26.67],[-30.67,0],[-15.33,-26.67],[15.33,-26.67]];var pts=P.map(function(p){return(cx+p[0]).toFixed(2)+','+(cy+p[1]).toFixed(2);}).join(' ');el('polygon',{points:pts,fill:col[h[0]]||'#ccc',stroke:st,'stroke-width':sw},g);});}
hexes('hexM',{SON:'#fca347',CHIH:'#fd8239',BC:'#fd8239',DGO:'#fff6c0',COAH:'#fff8c6',SIN:'#c1002a',ZAC:'#fff0b2',NL:'#feea9f',BCS:'#fdaa4a',NAY:'#fee69a',AGS:'#fff2b6',TAM:'#fff2b8',JAL:'#feeea6',SLP:'#feeda4',GTO:'#feb956',VER:'#feeba1',COL:'#800026',QRO:'#fff4bc',MEX:'#fff0af',HGO:'#fff3ba',MICH:'#fec260',CDMX:'#feefab',YUC:'#ffffcf',MOR:'#fd8239',TLAX:'#fff5bd',CAMP:'#fff3b8',GRO:'#fca849',PUE:'#fee79b',TAB:'#fec965',QROO:'#fee79b',CHPS:'#fff5bd',OAX:'#fee79b'},1,'#cfcfcf');
hexes('hexK',{BC:'#6cc4a6',SON:'#5fb898',SIN:'#5fb898',DGO:'#6cc4a6',CHIH:'#0b4a26',COAH:'#6cc4a6',BCS:'#6cc4a6',NAY:'#4fa482',ZAC:'#63bc9c',NL:'#6cc4a6',AGS:'#63bc9c',TAM:'#6cc4a6',JAL:'#5fb898',SLP:'#6cc4a6',GTO:'#63bc9c',VER:'#6cc4a6',COL:'#6cc4a6',QRO:'#6cc4a6',MEX:'#5fb898',HGO:'#4fa482',MICH:'#4fa482',CDMX:'#5fb898',YUC:'#6cc4a6',MOR:'#3b8b62',TLAX:'#5aaf90',CAMP:'#4a9a76',GRO:'#6cc4a6',PUE:'#63bc9c',TAB:'#1a6437',QROO:'#6cc4a6',CHPS:'#6cc4a6',OAX:'#6cc4a6'},1.6,'#bdbdbd');
hexes('hexP',{BC:'#8c8cc2',SON:'#8f93c8',DGO:'#959bcd',CHIH:'#8782bd',COAH:'#8f93c8',SIN:'#4b0b56',ZAC:'#8782bd',NL:'#9397ca',BCS:'#959bcd',NAY:'#9397ca',AGS:'#8c8fc6',TAM:'#9397ca',JAL:'#8078b4',SLP:'#8c8fc6',GTO:'#8078b4',VER:'#8c8fc6',COL:'#9ba3d5',QRO:'#8c8cc4',MEX:'#7a68a8',HGO:'#8c8fc6',MICH:'#7863a4',CDMX:'#8884bf',YUC:'#9ba3d5',MOR:'#7a66a6',TLAX:'#8782bd',CAMP:'#9ba3d5',GRO:'#7a66a6',PUE:'#7a66a6',TAB:'#8f93c8',QROO:'#9ba3d5',CHPS:'#9397ca',OAX:'#9397ca'},1.6,'#bdbdbd');
hexes('hexB',{BC:'#0d3a5c',SON:'#5b8bb2',CHIH:'#4b7ba3',DGO:'#6a9dc6',COAH:'#6ba1ca',SIN:'#6a9dc6',ZAC:'#5b8db6',NL:'#6ba1ca',BCS:'#5b8db6',NAY:'#6ba1ca',AGS:'#6a9dc6',TAM:'#6ba1ca',JAL:'#5b8bb2',SLP:'#6ba1ca',GTO:'#6a9dc6',VER:'#6ba1ca',COL:'#6ba1ca',QRO:'#39648a',MEX:'#5b8db6',HGO:'#5b8db6',MICH:'#5b8db6',CDMX:'#5b8db6',YUC:'#6da5ce',MOR:'#4a79a2',TLAX:'#5b8db6',CAMP:'#6da5ce',GRO:'#6a9dc6',PUE:'#39648a',TAB:'#5b8bb2',QROO:'#6ba1ca',CHPS:'#6a9dc6',OAX:'#5b8db6'},1.6,'#bdbdbd');

var NAT=[
{x0:55,z:882.3,k:4.36,t:[0,10,20,30],noise:0.8,
 red:[[2015,12.5],[2016,16.5],[2017,21],[2018,25],[2019,27.3],[2020,27.8],[2021,27],[2022,25],[2023,23.6],[2024,22.3],[2025.45,20.8]],
 data:[[2015,13.8],[2015.5,15],[2016,15.5],[2016.5,18],[2017,20.5],[2017.5,23],[2018,25.5],[2018.5,28],[2019,28.3],[2019.5,28.2],[2020,27.7],[2020.5,27.5],[2021,26.8],[2021.5,26.5],[2022,25],[2022.5,25.5],[2023,24],[2023.5,23.5],[2024,22.3],[2024.5,24.5],[2025,21],[2025.2,20.5],[2025.45,18.2]],out:[]},
{x0:403,z:882.3,k:2.3,t:[0,20,40],noise:1.6,
 red:[[2015,27],[2016,35.5],[2017,42.5],[2018,46.8],[2018.7,47.3],[2019.5,45.5],[2020,42.5],[2021,36],[2022,31],[2023,27.5],[2024,26],[2025.45,26.3]],
 data:[[2015,36],[2015.5,32],[2016,33],[2016.5,28],[2017,36],[2017.5,42],[2018,51],[2018.5,52],[2019,54],[2019.5,51],[2020,45],[2020.4,39],[2021,36],[2021.5,33],[2022,31],[2022.5,28],[2023,28.5],[2023.5,27],[2024,26.5],[2024.6,28.5],[2025,24],[2025.45,20]],out:[]},
{x0:754,z:882.3,k:1.2636,t:[0,25,50,75,100],noise:1.8,
 red:[[2015,79],[2016,88],[2017,95.5],[2017.6,95.5],[2018,92.5],[2019,80],[2020,63],[2020.8,54],[2021.5,49.5],[2022,48],[2023,46.5],[2024,42],[2025,37],[2025.45,32]],
 data:[[2015,91],[2015.4,85],[2016,86],[2016.5,81],[2017,95],[2017.5,95],[2018,96],[2018.5,88],[2019,80],[2019.5,72],[2020,66],[2020.15,62],[2020.25,45],[2020.6,48],[2021,51],[2021.5,52],[2022,50],[2023,48],[2023.5,43],[2024,43],[2025,38],[2025.45,30.5]],out:[]},
{x0:55,z:1074.3,k:12.1,t:[0,2.5,5,7.5,10],noise:0.55,
 red:[[2015,4.9],[2016,4.95],[2017,5.1],[2018,5.4],[2019,6.0],[2020,6.65],[2021,7.3],[2022,7.8],[2023,8.1],[2024,8.35],[2025.45,8.55]],
 data:null,out:[[2022.3,10.5],[2022.4,10.5],[2022.35,10],[2023.8,6.4],[2025,9.9]]},
{x0:403,z:1074.3,k:75.2,t:[0,0.5,1,1.5],noise:0.17,
 red:[[2015,1.0],[2016,1.1],[2017,1.17],[2018,1.2],[2019,1.1],[2020,0.92],[2021,0.76],[2022,0.63],[2023,0.56],[2024,0.58],[2025.45,0.7]],
 data:null,out:[[2015.2,1.5],[2019,1.65],[2019.1,1.6],[2024.5,1.45],[2022.1,1.1]]},
{x0:754,z:1074.3,k:7.67,t:[0,5,10,15],noise:0.65,
 red:[[2015,14],[2017,14],[2019,13.6],[2020.5,13.5],[2022,14.1],[2023.5,14.6],[2025.45,14.2]],
 data:null,out:[[2020.3,10.3],[2024.5,16.5],[2021.9,16]]}
];
var gg=document.getElementById('natg'),gd=document.getElementById('natd');
NAT.forEach(function(p){
 var X=function(y){return p.x0+14.6+(y-2015)*27.9;};
 var bot=p.z+4.7;
 p.t.forEach(function(v){var y=p.z-v*p.k;el('line',{x1:p.x0,x2:p.x0+319,y1:y,y2:y,stroke:'#a8996a','stroke-width':1},gg);el('line',{x1:p.x0-4,x2:p.x0-1,y1:y,y2:y,stroke:'#555','stroke-width':1},gg);});
 for(var yr=2016;yr<=2024;yr+=2){el('line',{x1:X(yr),x2:X(yr),y1:bot,y2:bot+3,stroke:'#555','stroke-width':1},gg);}
 var src=p.data||p.red;
 for(var i=0;i<126;i++){var yr=2015+i/12;var v=ixy(src,yr)+gauss()*p.noise;el('circle',{cx:X(yr).toFixed(1),cy:(p.z-v*p.k).toFixed(1),r:2.6,fill:'#222'},gd);}
 p.out.forEach(function(o){el('circle',{cx:X(o[0]).toFixed(1),cy:(p.z-o[1]*p.k).toFixed(1),r:2.6,fill:'#222'},gd);});
 var d='';for(var yr=2015;yr<=2025.4501;yr+=0.05){d+=(d?'L':'M')+X(yr).toFixed(1)+','+(p.z-ixy(p.red,yr)*p.k).toFixed(1);}
 el('path',{d:d,fill:'none',stroke:'#c00000','stroke-width':3.2,'stroke-linecap':'round'},gd);
});

function F(v){var a=[];for(var i=0;i<11;i++)a.push(v);return a;}
var TOPS1=[232.3,297.3,362.3,427.3,492.3,557.3],TOPS2=[1357.3,1422.3,1487.3,1552.3,1617.3,1682.3];
var GH=[
[[0.05,0.3,0.5,0.48,0.4,0.36,0.42,0.52,0.55,0.48,0.42],3.5,1.2,[[0.18,0.72],[0.2,0.68],[0.7,0.7],[0.75,0.68]]],
[[0.12,0.18,0.15,0.12,0.1,0.08,0.07,0.05,0.04,0.1,0.36],4.5,0.7],
[[0.1,0.13,0.16,0.2,0.23,0.24,0.27,0.3,0.34,0.32,0.24],3.5,0.8,[[0.88,0.5]]],
[[0.15,0.17,0.24,0.3,0.33,0.32,0.3,0.28,0.26,0.25,0.23],4,0.8],
[[0.08,0.2,0.35,0.4,0.38,0.36,0.34,0.32,0.3,0.28,0.22],4.2,0.7],
[[0.1,0.1,0.12,0.15,0.2,0.25,0.3,0.28,0.26,0.24,0.18],3.5,0.8],
[[0.25,0.28,0.32,0.35,0.3,0.25,0.2,0.2,0.2,0.2,0.18],3.5,0.8],
[[0.0,0.2,0.3,0.12,0.05,0.04,0.04,0.04,0.05,0.05,0.16],2.5,1.5,[[0.2,1.0],[0.22,0.85],[0.18,0.75],[0.24,0.6],[0.21,0.55],[0.16,0.45],[0.25,0.4]]],
[[0.08,0.1,0.15,0.28,0.3,0.27,0.25,0.25,0.24,0.22,0.15],3.5,0.8,[[0.33,0.42]]],
[[0.1,0.14,0.17,0.2,0.24,0.27,0.3,0.28,0.22,0.18,0.15],3.2,0.8],
[[0.05,0.06,0.08,0.1,0.12,0.1,0.08,0.07,0.08,0.15,0.13],3,0.8],
[[0.08,0.1,0.12,0.12,0.11,0.11,0.11,0.1,0.1,0.1,0.07],2.5,0.7],
[[0.05,0.06,0.08,0.09,0.08,0.07,0.07,0.07,0.07,0.07,0.06],3.5,0.6],
[[0.0,0.04,0.1,0.1,0.08,0.07,0.06,0.05,0.05,0.05,0.05],2,1,[[0.22,0.28],[0.24,0.25],[0.23,0.2]]],
[[0.05,0.05,0.08,0.2,0.18,0.16,0.15,0.17,0.16,0.12,0.06],2.5,0.9],
[[0.0,0.05,0.1,0.1,0.09,0.08,0.07,0.06,0.05,0.05,0.05],3,0.6],
[[0.04,0.04,0.05,0.05,0.06,0.07,0.08,0.08,0.09,0.1,0.06],3,0.6],
[[0.04,0.05,0.07,0.08,0.1,0.1,0.12,0.13,0.1,0.07,0.05],2.5,0.6],
[[0.06,0.07,0.08,0.1,0.15,0.17,0.15,0.13,0.11,0.09,0.05],3.5,0.6],
[[0.05,0.05,0.06,0.07,0.08,0.07,0.06,0.05,0.04,0.04,0.04],3.2,0.5],
[F(0.07),4.2,0.4],
[[0.04,0.04,0.04,0.04,0.04,0.04,0.04,0.04,0.04,0.05,0.04],2.5,0.4],
[[0.02,0.03,0.04,0.04,0.05,0.05,0.05,0.05,0.05,0.04,0.03],2,0.4],
[[0.02,0.02,0.03,0.03,0.03,0.03,0.03,0.04,0.04,0.04,0.03],2,0.4],
[[0.05,0.15,0.2,0.2,0.2,0.25,0.4,0.45,0.35,0.15,0.03],2,1,[[0.68,0.65]]],
[[0.02,0.03,0.04,0.05,0.06,0.07,0.07,0.06,0.06,0.05,0.04],2,0.5],
[[0.04,0.05,0.06,0.05,0.05,0.05,0.05,0.06,0.06,0.06,0.05],2,0.5],
[[0.13,0.15,0.17,0.15,0.12,0.1,0.09,0.07,0.05,0.04,0.03],2,0.6,[[0.0,0.2]]],
[F(0.04),2,0.4],
[[0.1,0.06,0.04,0.03,0.03,0.03,0.02,0.02,0.02,0.02,0.01],2,0.5],
[[0.12,0.1,0.09,0.08,0.07,0.06,0.05,0.04,0.03,0.02,0.02],1.5,0.5],
[F(0.01),1.5,0.2]];
var GK=[
[[0.02,0.02,0.03,0.04,0.05,0.08,0.12,0.18,0.24,0.3,0.3],4.5,1.5,[[0.9,0.6],[0.92,0.55],[0.95,0.62],[0.88,0.5],[0.97,0.58],[0.85,0.45]]],
[[0.15,0.2,0.2,0.25,0.2,0.14,0.08,0.05,0.05,0.08,0.12],4.5,1.2,[[0.3,0.38],[0.25,0.35]]],
[[0.1,0.1,0.12,0.15,0.2,0.25,0.2,0.12,0.08,0.06,0.06],3.5,1.2,[[0.5,0.38],[0.55,0.35]]],
[[0.05,0.06,0.08,0.07,0.05,0.04,0.03,0.03,0.02,0.02,0.02],2.5,1.8,[[0.3,0.2],[0.35,0.22],[0.2,0.15]]],
[F(0.02),3.5,0.6],
[F(0.03),2.5,1.2,[[0.0,0.15],[0.3,0.12]]],
[[0.02,0.02,0.03,0.05,0.08,0.06,0.04,0.03,0.03,0.04,0.05],3,1.5,[[0.5,0.35],[0.0,0.18],[0.8,0.15]]],
[[0.05,0.05,0.04,0.04,0.04,0.04,0.03,0.03,0.03,0.03,0.03],3,1],
[F(0.01),3.5,0.4],
[[0.03,0.03,0.04,0.04,0.04,0.03,0.03,0.02,0.02,0.02,0.02],3,1],
[[0.02,0.03,0.05,0.1,0.12,0.06,0.03,0.02,0.02,0.02,0.02],3.5,1,[[0.8,0.2],[0.95,0.15]]],
[F(0.03),2.5,1],
[[0.01,0.01,0.01,0.02,0.02,0.03,0.04,0.05,0.06,0.07,0.05],3,1.5,[[0.45,0.3],[0.8,0.38],[0.9,0.2]]],
[F(0.02),2,0.8,[[0.15,0.1],[0.3,0.18]]],
[[0.06,0.05,0.05,0.05,0.04,0.04,0.04,0.03,0.03,0.02,0.01],3.5,0.8],
[[0.05,0.06,0.08,0.1,0.14,0.12,0.06,0.03,0.02,0.01,0.01],2,1.2,[[0.45,0.3],[0.6,0.18]]],
[[0.01,0.02,0.03,0.04,0.04,0.04,0.03,0.02,0.01,0.01,0.01],1.5,1.5,[[0.5,0.3],[0.45,0.2]]],
[[0.04,0.03,0.03,0.03,0.03,0.03,0.03,0.03,0.03,0.03,0.02],1.5,0.8],
[[0.01,0.01,0.02,0.03,0.04,0.04,0.03,0.03,0.02,0.01,0.01],1.5,1.5,[[0.6,0.1]]],
[[0.02,0.02,0.02,0.03,0.03,0.03,0.03,0.03,0.03,0.03,0.04],1.5,1,[[0.25,0.32],[0.3,0.2],[0.95,0.35]]],
[[0.05,0.04,0.03,0.02,0.02,0.02,0.01,0.01,0.01,0.01,0.01],1,1,[[0.4,0.12]]],
[[0.02,0.05,0.1,0.18,0.15,0.1,0.06,0.05,0.04,0.03,0.02],1.5,1.5,[[0.35,1.0],[0.4,0.3],[0.55,0.3]]],
[[0.03,0.05,0.04,0.02,0.01,0.01,0.01,0.01,0.01,0.01,0.01],1,1.2,[[0.2,0.15]]],
[[0.35,0.3,0.22,0.16,0.1,0.07,0.05,0.03,0.02,0.02,0.02],1.5,1,[[0.0,0.5]]],
[F(0.03),1,0.6],
[[0.08,0.07,0.06,0.05,0.05,0.04,0.04,0.04,0.04,0.05,0.05],1,1,[[0.9,0.12]]],
[F(0.03),1,1,[[0.3,0.2],[0.65,0.12]]],
[[0.02,0.04,0.08,0.1,0.12,0.1,0.08,0.06,0.04,0.03,0.02],1.5,1.5,[[0.45,0.65],[0.25,0.25],[0.35,0.2],[0.85,0.2]]],
[[0.05,0.05,0.05,0.05,0.04,0.04,0.04,0.04,0.03,0.03,0.03],1,1,[[0.6,0.12],[0.7,0.1]]],
[[0.55,0.45,0.35,0.2,0.1,0.05,0.03,0.03,0.04,0.04,0.05],1.5,1.2,[[0.85,0.4],[0.9,0.35],[0.95,0.3]]],
[F(0.01),1,0.2],
[[0.08,0.2,0.25,0.28,0.22,0.15,0.1,0.07,0.05,0.03,0.02],1.5,1]];
var GP=[
[[0.3,0.35,0.38,0.35,0.3,0.28,0.27,0.25,0.22,0.3,0.6],4.5,1,[[0.8,1.0],[0.25,0.55]]],
[[0.1,0.15,0.2,0.2,0.2,0.19,0.18,0.17,0.17,0.17,0.17],3.8,0.8],
[[0.05,0.1,0.25,0.4,0.45,0.35,0.2,0.18,0.18,0.18,0.18],4,0.8,[[0.4,0.55]]],
[[0.15,0.2,0.28,0.25,0.2,0.15,0.1,0.1,0.12,0.13,0.16],3.5,0.8],
[[0.25,0.25,0.25,0.23,0.25,0.28,0.3,0.33,0.37,0.38,0.3],3,1,[],0.16],
[[0.55,0.55,0.5,0.6,0.68,0.55,0.45,0.38,0.35,0.3,0.18],5,1,[[0.1,0.3],[0.15,0.25]]],
[[0.05,0.07,0.1,0.15,0.2,0.18,0.15,0.14,0.13,0.13,0.12],3.5,0.8],
[[0.1,0.2,0.3,0.38,0.3,0.22,0.18,0.16,0.14,0.12,0.1],3.5,0.8],
[[0.1,0.1,0.1,0.1,0.12,0.13,0.14,0.17,0.2,0.18,0.08],2.5,0.9,[[0.8,0.32]]],
[[0.05,0.07,0.12,0.2,0.18,0.14,0.14,0.15,0.15,0.14,0.08],2.5,0.9,[[0.4,0.32]]],
[[0.0,0.12,0.2,0.2,0.2,0.19,0.18,0.17,0.15,0.12,0.1],2.5,0.8],
[[0.06,0.06,0.07,0.08,0.1,0.12,0.13,0.13,0.12,0.1,0.07],2.5,0.7],
[[0.08,0.08,0.07,0.07,0.07,0.07,0.06,0.06,0.06,0.06,0.06],2.5,0.6],
[[0.05,0.1,0.15,0.2,0.25,0.2,0.1,0.07,0.06,0.06,0.06],2.5,1,[[0.4,0.38],[0.42,0.33]]],
[[0.03,0.04,0.05,0.06,0.07,0.07,0.07,0.07,0.07,0.07,0.06],2,0.6],
[[0.02,0.02,0.03,0.04,0.05,0.05,0.06,0.07,0.08,0.08,0.07],2.5,0.6],
[[0.42,0.35,0.3,0.28,0.22,0.15,0.1,0.08,0.1,0.08,0.05],2,1.5,[[0.0,0.55],[0.25,0.75],[0.22,0.55],[0.28,0.5]]],
[[0.1,0.12,0.15,0.17,0.14,0.12,0.1,0.08,0.06,0.05,0.05],2.5,0.8,[[0.4,0.04]]],
[[0.06,0.05,0.05,0.04,0.04,0.05,0.06,0.05,0.04,0.04,0.03],2.5,0.6],
[[0.2,0.2,0.18,0.2,0.22,0.18,0.12,0.08,0.06,0.05,0.04],2.5,0.6],
[[0.02,0.02,0.03,0.03,0.03,0.03,0.03,0.03,0.03,0.03,0.02],2,0.5],
[[0.01,0.02,0.1,0.22,0.25,0.15,0.08,0.05,0.05,0.06,0.03],2,0.8],
[[0.08,0.07,0.06,0.05,0.05,0.05,0.04,0.03,0.03,0.03,0.02],1.5,0.6],
[F(0.02),1.5,0.5],
[[0.08,0.07,0.05,0.04,0.03,0.03,0.03,0.02,0.02,0.02,0.02],2,0.6],
[F(0.01),1.5,0.3],
[[0.02,0.03,0.04,0.05,0.06,0.07,0.06,0.05,0.04,0.03,0.02],1.5,0.6],
[F(0.03),1.5,0.5],
[F(0.02),1.5,0.4],
[F(0.01),1.5,0.3],
[F(0.01),1.5,0.3],
[F(0.01),1.5,0.3]];
var GB=[
[[0.45,0.6,0.75,0.7,0.5,0.35,0.38,0.4,0.38,0.32,0.25],5,0.8,[[0.2,0.9],[0.22,0.85]]],
[[0.2,0.25,0.3,0.35,0.3,0.2,0.15,0.15,0.15,0.14,0.12],3.5,0.7],
[[0.02,0.05,0.1,0.15,0.14,0.12,0.1,0.09,0.08,0.09,0.1],4.5,0.7],
[[0.22,0.18,0.15,0.13,0.11,0.1,0.1,0.1,0.1,0.1,0.09],3,0.7],
[[0.18,0.17,0.17,0.16,0.18,0.16,0.14,0.12,0.11,0.1,0.09],3.5,0.7],
[[0.28,0.25,0.2,0.15,0.12,0.1,0.08,0.07,0.06,0.06,0.07],3.5,0.7,[[0.95,0.15]]],
[[0.05,0.12,0.2,0.22,0.18,0.08,0.05,0.05,0.05,0.05,0.06],3,0.7],
[[0.05,0.15,0.3,0.3,0.22,0.12,0.1,0.09,0.08,0.08,0.07],4.5,0.7],
[[0.25,0.3,0.3,0.25,0.15,0.08,0.06,0.05,0.05,0.05,0.04],2.5,1,[[0.15,0.45],[0.2,0.45]]],
[[0.25,0.22,0.2,0.18,0.17,0.15,0.13,0.11,0.1,0.08,0.06],4.5,0.6],
[[0.1,0.12,0.16,0.18,0.14,0.09,0.08,0.08,0.07,0.06,0.05],3,0.7],
[[0.15,0.16,0.15,0.14,0.12,0.09,0.06,0.06,0.05,0.04,0.03],2.5,0.7],
[[0.12,0.11,0.1,0.07,0.05,0.05,0.05,0.05,0.06,0.06,0.05],3.5,0.6],
[[0.12,0.11,0.1,0.11,0.12,0.09,0.07,0.06,0.05,0.05,0.05],3.5,0.6],
[[0.15,0.3,0.35,0.25,0.12,0.08,0.07,0.07,0.06,0.06,0.05],2.5,0.7],
[[0.06,0.06,0.07,0.08,0.1,0.09,0.09,0.08,0.07,0.06,0.05],2.5,0.7],
[[0.12,0.12,0.1,0.09,0.08,0.07,0.06,0.05,0.05,0.05,0.05],3,0.6],
[[0.18,0.15,0.11,0.08,0.06,0.05,0.04,0.04,0.04,0.04,0.04],2.5,0.6],
[[0.03,0.05,0.07,0.09,0.09,0.09,0.08,0.07,0.05,0.04,0.04],2.5,0.6],
[[0.1,0.18,0.25,0.2,0.18,0.15,0.15,0.15,0.13,0.08,0.04],2,1.3,[[0.6,0.3],[0.62,0.25]]],
[[0.1,0.09,0.09,0.08,0.07,0.06,0.06,0.05,0.04,0.03,0.03],3.5,0.6],
[[0.1,0.15,0.2,0.18,0.13,0.11,0.1,0.1,0.08,0.06,0.04],2.5,0.7],
[[0.08,0.08,0.09,0.08,0.04,0.02,0.02,0.02,0.02,0.02,0.02],2.5,0.6],
[F(0.02),2.5,0.5],
[[0.12,0.1,0.08,0.06,0.05,0.04,0.03,0.03,0.03,0.03,0.03],2.5,0.6],
[[0.05,0.04,0.03,0.03,0.03,0.03,0.04,0.04,0.03,0.03,0.03],2.5,0.6],
[[0.02,0.02,0.03,0.05,0.04,0.03,0.03,0.03,0.03,0.03,0.03],2,0.6],
[[0.1,0.08,0.07,0.06,0.05,0.05,0.04,0.03,0.02,0.02,0.02],1.5,0.6],
[[0.07,0.05,0.04,0.03,0.03,0.02,0.02,0.02,0.02,0.02,0.01],1.5,0.6],
[F(0.02),2,0.5],
[[0.03,0.04,0.04,0.03,0.03,0.03,0.03,0.03,0.02,0.02,0.02],1.5,0.5],
[F(0.01),1.5,0.3]];
var gb=document.getElementById('smb'),gs=document.getElementById('smd');
function grid(list,x0s,dx,tops,ytx){
 list.forEach(function(sp,idx){
  var r=Math.floor(idx/6),c=idx%6,x0=x0s+c*dx,st=tops[r];
  el('rect',{x:x0,y:st,width:45.5,height:11,fill:'#7b6527'},gb);
  var top=st+13,z=st+55.2,span=z-top;
  el('line',{x1:x0,x2:x0+45.5,y1:top,y2:top,stroke:'#a0957a','stroke-width':0.8},gb);
  el('line',{x1:x0,x2:x0+45.5,y1:z,y2:z,stroke:'#a0957a','stroke-width':0.8},gb);
  if(c===0){el('line',{x1:ytx+1.5,x2:ytx+4.5,y1:top,y2:top,stroke:'#555','stroke-width':0.8},gb);el('line',{x1:ytx+1.5,x2:ytx+4.5,y1:z,y2:z,stroke:'#555','stroke-width':0.8},gb);}
  var X=function(t){return x0+1.8+t*41.5;},Y=function(v){return z-Math.max(0,v)*span;};
  if(r===5||(r===4&&c>=2)){[0,1].forEach(function(t){el('line',{x1:X(t),x2:X(t),y1:z+1.5,y2:z+4,stroke:'#555','stroke-width':0.8},gb);});}
  var kn=sp[0],er=sp[1],nm=sp[2],out=sp[3]||[],ev=sp[4];
  for(var i=0;i<126;i++){var t=i/125,v=interp(kn,t);var n=gauss()*nm*(0.012+0.1*v);el('circle',{cx:X(t).toFixed(2),cy:Y(v+n).toFixed(2),r:0.85,fill:'#5c5c5c'},gs);}
  out.forEach(function(o){el('circle',{cx:X(o[0]).toFixed(2),cy:Y(o[1]).toFixed(2),r:0.9,fill:'#5c5c5c'},gs);});
  var d='';for(var j=0;j<=60;j++){var tt=j/60;d+=(j?'L':'M')+X(tt).toFixed(1)+','+Y(interp(kn,tt)).toFixed(1);}
  el('path',{d:d,fill:'none',stroke:'#111','stroke-width':1.3},gs);
  el('circle',{cx:X(1).toFixed(2),cy:Y(ev!==undefined?ev:kn[kn.length-1]).toFixed(2),r:er,fill:'#c80000'},gs);
 });
}
grid(GH,765.3,52.5,TOPS1,759.5);
grid(GK,41.7,53.05,TOPS2,36.5);
grid(GP,405.3,52.5,TOPS2,400.5);
grid(GB,765.3,52.5,TOPS2,759.5);
})();
</script>
</body></html>
